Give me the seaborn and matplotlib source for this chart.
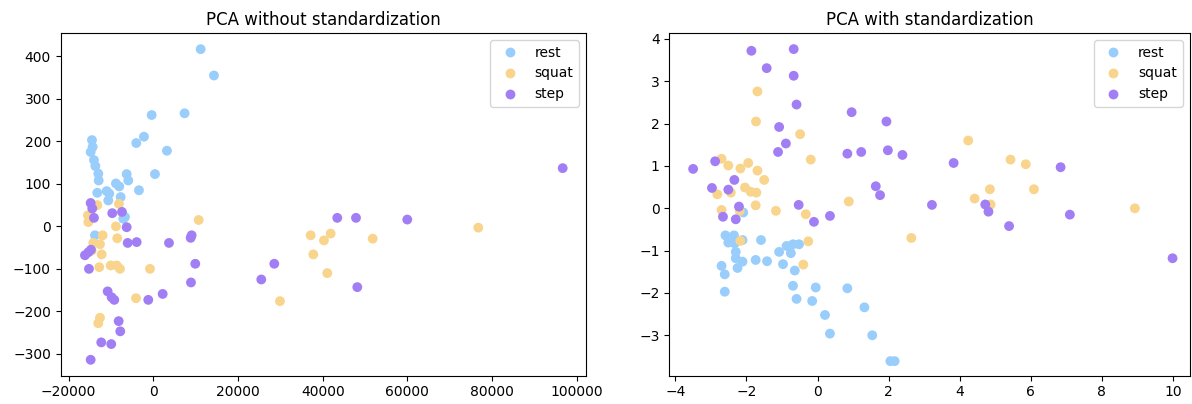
import numpy as np
import pandas as pd
import matplotlib
matplotlib.use("Agg")
import matplotlib.pyplot as plt
import seaborn as sns

classes = ["rest", "squat", "step"]
palette = {"rest": "#99cdfb", "squat": "#f9d48c", "step": "#a27ef5"}

# PCA on raw features
raw_rest_pc1 = [11190, 14330, -380, 7390, -2200, -4010, 3230,
                -14470, -14310, -14780, -14000, -13670, -12980, -12890,
                -6280, -5900, 400, -8810, -8030, -3380, -13220, -11000,
                -10390, -7700, -10620, -7080, -13770, -6680]
raw_rest_pc2 = [417, 355, 262, 266, 211, 196, 178,
                203, 187, 175, 156, 142, 124, 108,
                123, 108, 123, 101, 94, 85, 79, 83,
                77, 69, 61, 18, -21, 22]

raw_squat_pc1 = [-13220, -15420, -15330, -8100, 10720, -8810, -11950, -8500,
                 -14170, -12580, -14540, -12180, -12750, -10060, -7860, -8640,
                 -780, -4080, -12580, -12990, 29910, 76730, 37160, 41880,
                 40300, 51800, 37780, 41080]
raw_squat_pc2 = [50, 26, 10, 53, 15, 0, -21, -28,
                 -39, -42, -57, -66, -96, -92, -100, -92,
                 -100, -169, -215, -228, -176, -3, -21, -17,
                 -33, -29, -66, -110]

raw_step_pc1 = [-14780, -14400, -14000, -9680, -7390, -6280, -6040, -3920,
                3710, 9060, 8830, -15330, -16130, -14710, -15180, 9920,
                28570, 25500, 8900, -10770, -9820, -9210, -1180, 2220,
                -8170, -7790, -12280, -9920, -14780, 96660, 43440, 47860,
                59970, 48170]
raw_step_pc2 = [55, 42, 20, 31, 34, -2, -39, -37,
                -39, -21, -27, -61, -68, -55, -100, -88,
                -88, -125, -132, -153, -167, -173, -173, -159,
                -223, -247, -273, -277, -314, 137, 20, 20,
                16, -143]

# PCA on standardized features
std_rest_pc1 = [-2.09, -2.59, -2.35, -2.51, -2.33, -2.11, -1.59, -2.30,
                -2.30, -2.11, -2.70, -2.61, -2.25, -2.61, -1.74, -1.42,
                -1.08, -0.87, -0.69, -0.52, -0.75, -0.97, -0.64, -0.69,
                -0.05, 0.84, -0.59, -0.15, 0.21, 1.32, 0.35, 1.54,
                2.05, 2.17]
std_rest_pc2 = [-0.10, -0.64, -0.64, -0.81, -0.83, -0.75, -0.75, -1.03,
                -1.18, -1.26, -1.36, -1.56, -1.41, -1.97, -1.22, -1.25,
                -1.03, -0.89, -0.85, -0.85, -1.06, -1.32, -1.47, -1.83,
                -1.87, -1.89, -2.14, -2.19, -2.52, -2.34, -2.96, -3.00,
                -3.61, -3.61]

std_squat_pc1 = [-1.69, -1.73, -0.49, -0.19, -2.70, -2.51, -2.17, -1.95,
                 -1.69, -1.50, -2.04, -1.88, -1.72, -2.82, -2.44, -1.74,
                 -2.70, -2.19, -1.17, -0.33, 0.88, -2.17, -0.26, -0.40,
                 2.64, 4.24, 5.43, 5.86, 4.85, 6.09, 4.42, 4.87, 8.93]
std_squat_pc2 = [2.76, 2.05, 1.75, 1.15, 1.17, 1.01, 0.94, 1.07,
                 0.89, 0.67, 0.49, 0.39, 0.37, 0.33, 0.37, 0.07,
                 -0.04, -0.06, -0.06, -0.14, 0.16, -0.77, -0.78, -1.33,
                 -0.70, 1.60, 1.15, 1.04, 0.45, 0.45, 0.23, 0.09, 0.00]

std_step_pc1 = [-1.86, -0.67, -1.43, -0.67, -0.59, 0.96, 1.94, -1.08,
                -0.89, -1.11, 0.84, 1.23, 1.98, 2.39, -3.50, -2.88,
                -2.34, -2.97, -2.51, 1.64, 1.76, -2.21, -0.53, -2.66,
                -2.30, 0.35, -0.10, 3.83, 6.84, 3.22, 4.72, 4.81,
                7.10, 5.39, 9.99]
std_step_pc2 = [3.72, 3.76, 3.31, 3.13, 2.45, 2.27, 2.05, 1.92,
                1.53, 1.33, 1.29, 1.33, 1.37, 1.26, 0.93, 1.11,
                0.67, 0.48, 0.44, 0.52, 0.31, 0.04, 0.08, -0.20,
                -0.26, -0.18, -0.32, 1.07, 0.97, 0.08, 0.09, -0.08,
                -0.15, -0.42, -1.18]


def make_frame(groups):
    parts = []
    for name, (xs, ys) in zip(classes, groups):
        parts.append(pd.DataFrame({"pc1": xs, "pc2": ys, "label": name}))
    return pd.concat(parts, ignore_index=True)


raw_df = make_frame([(raw_rest_pc1, raw_rest_pc2),
                     (raw_squat_pc1, raw_squat_pc2),
                     (raw_step_pc1, raw_step_pc2)])
std_df = make_frame([(std_rest_pc1, std_rest_pc2),
                     (std_squat_pc1, std_squat_pc2),
                     (std_step_pc1, std_step_pc2)])

plt.rcParams["font.family"] = ["DejaVu Sans"]
fig = plt.figure(figsize=(11.92, 4.04), dpi=100)
ax1 = fig.add_axes([0.0509, 0.0705, 0.4407, 0.8478])
ax2 = fig.add_axes([0.5615, 0.0705, 0.4365, 0.8478])

panels = [
    (ax1, raw_df, "PCA without standardization", (-21860, 102160), (-351, 455)),
    (ax2, std_df, "PCA with standardization", (-4.17, 10.47), (-3.95, 4.14)),
]
for ax, df, title, xlim, ylim in panels:
    sns.scatterplot(data=df, x="pc1", y="pc2", hue="label", hue_order=classes,
                    palette=palette, s=50, linewidth=0, ax=ax)
    ax.set_xlim(*xlim)
    ax.set_ylim(*ylim)
    ax.set_xlabel("")
    ax.set_ylabel("")
    ax.set_title(title, fontsize=12)
    ax.legend(loc="upper right", fontsize=10, markerscale=1.0)

ax1.set_yticks([-300, -200, -100, 0, 100, 200, 300, 400])
ax1.set_xticks([-20000, 0, 20000, 40000, 60000, 80000, 100000])
ax2.set_yticks([-3, -2, -1, 0, 1, 2, 3, 4])
ax2.set_xticks([-4, -2, 0, 2, 4, 6, 8, 10])

fig.savefig("out.png", dpi=100)
